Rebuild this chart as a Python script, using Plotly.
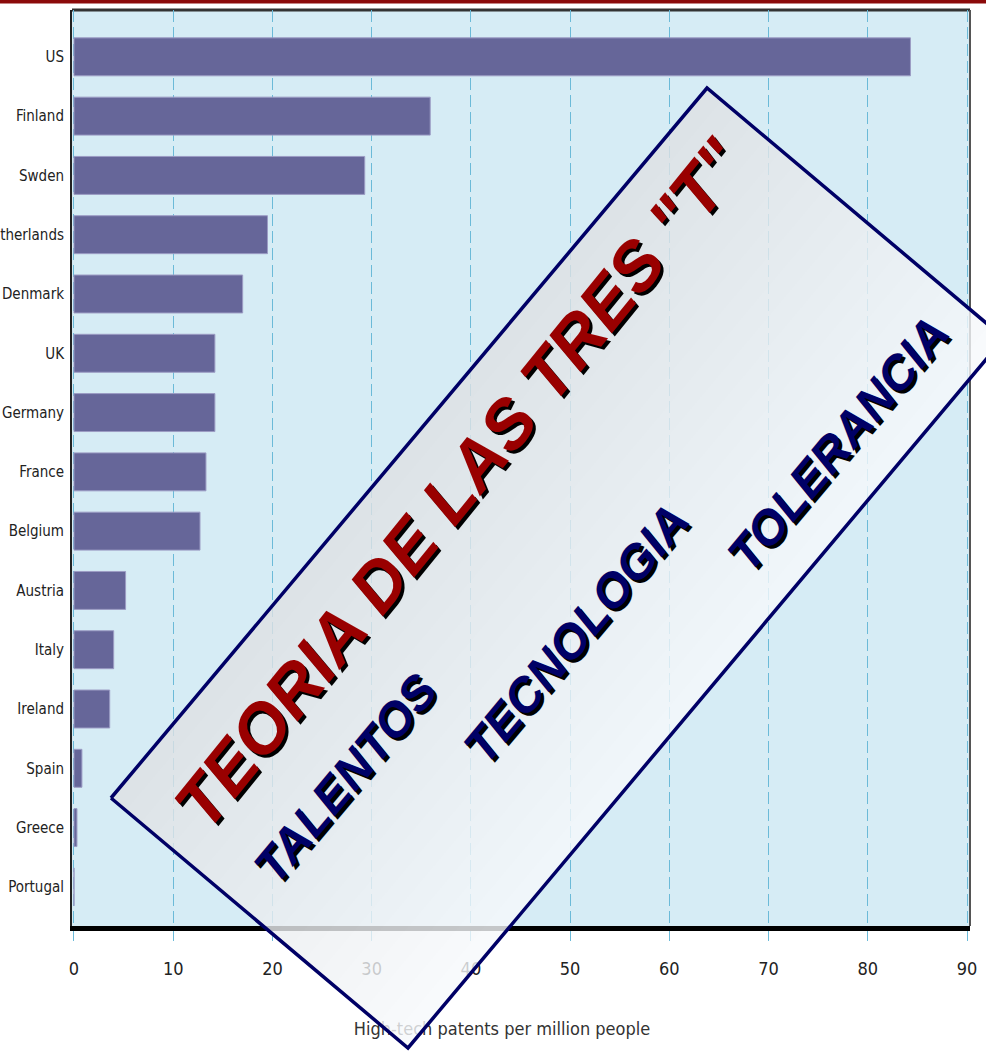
import numpy as np
import plotly.graph_objects as go

# data (high-tech patents per million people)
countries = ["US", "Finland", "Swden", "Netherlands", "Denmark", "UK", "Germany",
             "France", "Belgium", "Austria", "Italy", "Ireland", "Spain", "Greece", "Portugal"]
patents = [84.3, 35.9, 29.3, 19.5, 17.0, 14.2, 14.2, 13.3, 12.7, 5.2, 4.0, 3.6, 0.8, 0.3, 0.0]
x_ticks = list(range(0, 100, 10))
x_title = "High-tech patents per million people"

banner_title = 'TEORIA DE LAS TRES "T"'
banner_words = ["TALENTOS", "TECNOLOGIA", "TOLERANCIA"]

W, H = 986, 1060
NARROW = "DejaVu Sans Condensed, Liberation Sans Narrow, sans-serif"
BOLD = "Liberation Sans, Arial, sans-serif"
BAR = "#666699"
GRID = "#6bbad8"
NAVY = "#000066"
DARKRED = "#990000"


def fx(px):
    return px / W


def fy(px):
    return 1 - px / H


fig = go.Figure()

fig.add_trace(go.Bar(
    x=patents, y=countries, orientation="h",
    marker=dict(color=BAR, line=dict(color="#9c9cc4", width=1)),
    width=0.64, hoverinfo="skip",
))

# ---- banner overlay, drawn on a full-page pixel axis pair (x2/y2)
left = np.array([111.0, 798.0])
top = np.array([707.0, 88.0])
bottom = np.array([408.0, 1048.0])
right = top + bottom - left

# axis title sits under the banner, so it goes in before the banner fill
fig.add_trace(go.Scatter(
    x=[502], y=[1030], xaxis="x2", yaxis="y2", mode="text",
    text=[x_title], textfont=dict(family=NARROW, size=18, color="#333333"),
    hoverinfo="skip",
))

box = np.array([left, top, right, bottom, left])
fig.add_trace(go.Scatter(
    x=box[:, 0], y=box[:, 1], xaxis="x2", yaxis="y2", mode="none",
    fill="toself", fillcolor="rgb(248,250,252)", opacity=0.8, hoverinfo="skip",
))

# gray shading that fades across the short side of the box
n_steps = 20
for i in range(1, n_steps + 1):
    f = i / n_steps
    strip = np.array([left, top, top + f * (right - top), left + f * (bottom - left), left])
    fig.add_trace(go.Scatter(
        x=strip[:, 0], y=strip[:, 1], xaxis="x2", yaxis="y2", mode="none",
        fill="toself", fillcolor="rgb(150,150,150)", opacity=0.0131, hoverinfo="skip",
    ))

fig.add_trace(go.Scatter(
    x=box[:, 0], y=box[:, 1], xaxis="x2", yaxis="y2", mode="lines",
    line=dict(color=NAVY, width=3.5), hoverinfo="skip",
))

# banner text (shadow first, then colour)
banner_items = [
    (banner_title, 460, 483, 69, -51, DARKRED),
    (banner_words[0], 345, 778, 48, -50, NAVY),
    (banner_words[1], 576, 633, 48, -50, NAVY),
    (banner_words[2], 838, 443, 48, -50, NAVY),
]
for txt, cx, cy, size, ang, col in banner_items:
    for dx, c in ((3, "black"), (0, col)):
        fig.add_annotation(
            x=cx + dx, y=cy + dx, xref="x2", yref="y2", showarrow=False,
            text=f"<b><i>{txt}</i></b>", textangle=ang,
            font=dict(family=BOLD, size=size, color=c),
        )

fig.update_layout(
    width=W, height=H,
    margin=dict(l=0, r=0, t=0, b=0),
    paper_bgcolor="white",
    plot_bgcolor="rgba(0,0,0,0)",
    showlegend=False,
    xaxis=dict(
        domain=[fx(72), fx(970)], range=[-0.2, 90.3],
        tickvals=x_ticks, ticks="outside", ticklen=10, tickcolor=GRID, tickwidth=1,
        showgrid=True, gridcolor=GRID, gridwidth=1, griddash="12px,5px",
        showline=True, linecolor="black", linewidth=5, zeroline=False,
        tickfont=dict(family=NARROW, size=18, color="#222222"),
        ticklabelstandoff=12, automargin=False, fixedrange=True,
    ),
    yaxis=dict(
        domain=[fy(926), fy(10)],
        type="category", categoryorder="array", categoryarray=countries,
        range=[14.66, -0.79],
        showgrid=False, ticks="", showline=True, linecolor="#222222", linewidth=2,
        tickfont=dict(family=NARROW, size=15, color="#222222"),
        ticklabelstandoff=3, automargin=False, fixedrange=True,
    ),
    xaxis2=dict(domain=[0, 1], range=[0, W], anchor="y2", visible=False, fixedrange=True),
    yaxis2=dict(domain=[0, 1], range=[H, 0], anchor="x2", visible=False, fixedrange=True),
    shapes=[
        dict(type="rect", xref="x domain", yref="y domain", x0=0, x1=1, y0=0, y1=1,
             fillcolor="#d6ecf5", line=dict(width=0), layer="below"),
        dict(type="line", xref="x domain", yref="y domain", x0=0, x1=1, y0=1, y1=1,
             line=dict(color="#333333", width=3), layer="below"),
        dict(type="line", xref="x domain", yref="y domain", x0=1, x1=1, y0=0, y1=1,
             line=dict(color="#555555", width=2), layer="below"),
        dict(type="rect", xref="paper", yref="paper", x0=0, x1=1, y0=fy(3.5), y1=1,
             fillcolor="#8b0a0a", line=dict(width=0)),
    ],
)

fig.write_html("out.html", config={"displayModeBar": False},
               post_script="document.body.style.margin='0';")
